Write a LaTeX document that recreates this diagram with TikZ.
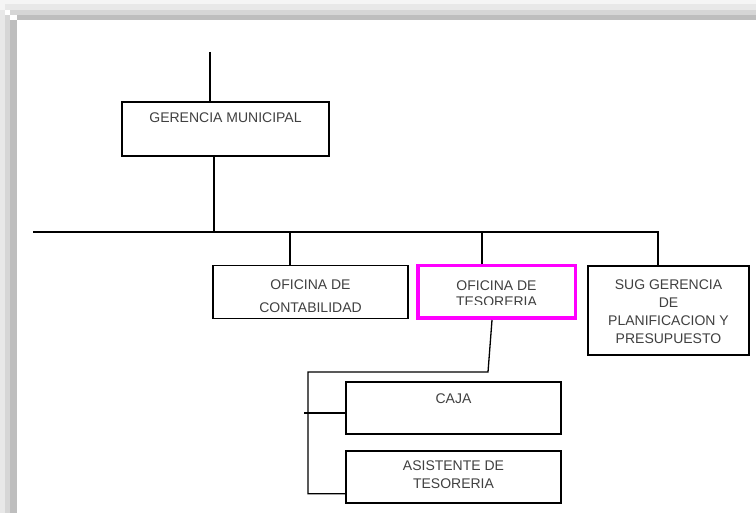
\documentclass[tikz,border=0pt]{standalone}
\usepackage{fontspec}
\setmainfont{Liberation Sans}
\usetikzlibrary{positioning}
\definecolor{tesmag}{RGB}{255, 0, 255}
\definecolor{shadeA}{RGB}{245, 245, 245}
\definecolor{shadeB}{RGB}{232, 232, 232}
\definecolor{shadeC}{RGB}{214, 214, 214}
\definecolor{shadeD}{RGB}{190, 190, 190}

\begin{document}
\begin{tikzpicture}[x=1pt, y=-1pt,
  orgbox/.style={draw=black, line width=1.3pt, inner sep=0pt},
  selbox/.style={draw=tesmag, line width=3.5pt, inner sep=0pt},
  orgtxt/.style={font=\fontsize{14}{18}\selectfont, text=black!75, align=center, inner sep=0pt},
  orgline/.style={draw=black, line width=1.3pt}
]
  \useasboundingbox (0,0) rectangle (756,513);
  \fill[white] (0,0) rectangle (756,513);
  \fill[shadeA] (0,0) rectangle (756,4);
  \fill[shadeA] (0,0) rectangle (5,513);
  \fill[shadeB] (5,4) rectangle (756,10);
  \fill[shadeB] (0,10) rectangle (5,513);
  \fill[shadeC] (10,10) rectangle (756,15);
  \fill[shadeC] (5,15) rectangle (10,513);
  \fill[shadeD] (17,15) rectangle (756,20);
  \fill[shadeD] (10,20) rectangle (17,513);

  \node[orgbox, minimum width=207pt, minimum height=54pt] (ger) at (225.5,129) {};
  \node[orgbox, minimum width=195pt, minimum height=52.5pt] (cont) at (310.5,292) {};
  \node[selbox, minimum width=157.5pt, minimum height=52.5pt] (tes) at (496.5,292) {};
  \node[orgbox, minimum width=161pt, minimum height=89pt] (sug) at (668.5,310.5) {};
  \node[orgbox, minimum width=215pt, minimum height=52pt] (caja) at (453.5,408) {};
  \node[orgbox, minimum width=215pt, minimum height=52pt] (asis) at (453.5,477) {};

  \node[orgtxt] (gertxt) at ([yshift=-16.5pt]ger.north) {GERENCIA MUNICIPAL};
  \node[orgtxt, font=\fontsize{14}{23}\selectfont] (conttxt) at ([yshift=-4pt]cont.center) {OFICINA DE\\CONTABILIDAD};
  \begin{scope}
    \clip (tes.north west) rectangle ([yshift=15.25pt]tes.south east);
    \node[orgtxt, font=\fontsize{14}{16}\selectfont] (testxt) at ([yshift=-2pt]tes.center) {OFICINA DE\\TESORERIA};
  \end{scope}
  \node[orgtxt] (sugtxt) at ([yshift=-1pt]sug.center) {SUG GERENCIA\\DE\\PLANIFICACION Y\\PRESUPUESTO};
  \node[orgtxt] (cajatxt) at ([yshift=-17.5pt]caja.north) {CAJA};
  \node[orgtxt] (asistxt) at ([yshift=2.5pt]asis.center) {ASISTENTE DE\\TESORERIA};

  \coordinate (gtop) at (210,52);
  \coordinate (busL) at (33,232);
  \coordinate (busR) at (658,232);
  \coordinate (gdrop) at (214,232);
  \coordinate (tesbus) at (308,372);
  \coordinate (asisin) at ([yshift=10pt]asis.south west);
  \coordinate (cajain) at ([yshift=-5pt]caja.west);

  \draw[orgline] (gtop) -- (gtop |- ger.north);
  \draw[orgline] (gdrop |- ger.south) -- (gdrop);
  \draw[orgline] (busL) -- (busR) -- (busR |- sug.north);
  \draw[orgline] ([xshift=-20.5pt]cont.north) -- ([xshift=-20.5pt]cont.north |- busL);
  \draw[orgline] ([xshift=-14.5pt]tes.north) -- ([xshift=-14.5pt]tes.north |- busL);
  \draw[orgline] ([xshift=-4.5pt]tes.south) -- ([xshift=-8.5pt]tes.south |- tesbus) -- (tesbus)
    -- (tesbus |- asisin) -- (asisin);
  \draw[orgline] ([xshift=-4pt]tesbus |- cajain) -- (cajain);
\end{tikzpicture}
\end{document}
